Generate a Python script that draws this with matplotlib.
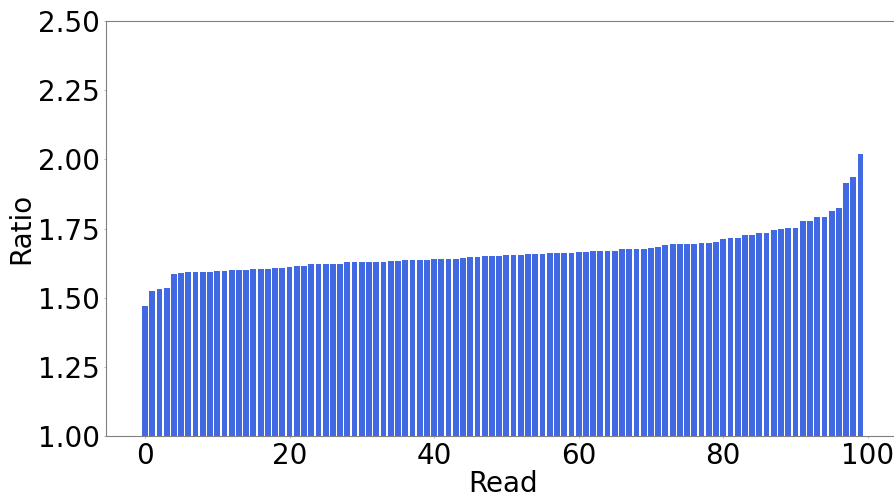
import numpy as np
import matplotlib
matplotlib.use("Agg")
import matplotlib.pyplot as plt
from matplotlib.ticker import FormatStrFormatter

# Ratio per read, sorted ascending
ratios = [
    1.470, 1.523, 1.530, 1.535, 1.584, 1.589, 1.592, 1.593, 1.593, 1.593,
    1.596, 1.596, 1.599, 1.600, 1.600, 1.604, 1.604, 1.604, 1.607, 1.607,
    1.610, 1.613, 1.613, 1.622, 1.622, 1.622, 1.622, 1.622, 1.628, 1.628,
    1.628, 1.629, 1.629, 1.629, 1.633, 1.633, 1.636, 1.636, 1.636, 1.636,
    1.639, 1.639, 1.639, 1.640, 1.643, 1.646, 1.646, 1.650, 1.651, 1.651,
    1.653, 1.654, 1.654, 1.657, 1.658, 1.658, 1.660, 1.660, 1.661, 1.661,
    1.664, 1.665, 1.669, 1.669, 1.669, 1.669, 1.675, 1.675, 1.675, 1.676,
    1.678, 1.682, 1.689, 1.693, 1.694, 1.694, 1.694, 1.698, 1.698, 1.701,
    1.712, 1.714, 1.714, 1.725, 1.727, 1.733, 1.733, 1.745, 1.747, 1.752,
    1.752, 1.776, 1.778, 1.791, 1.791, 1.813, 1.824, 1.913, 1.935, 2.018,
]
reads = np.arange(len(ratios))

fig = plt.figure(figsize=(8.94, 4.95), dpi=100)
# axes run past the right edge of the figure, as in the reference
ax = fig.add_axes([106 / 894, 59 / 495, 793.5 / 894, 415 / 495])

ax.bar(reads, ratios, color="royalblue", width=0.8)

ax.set_ylim(1.0, 2.5)
ax.set_yticks(np.arange(1.0, 2.51, 0.25))
ax.yaxis.set_major_formatter(FormatStrFormatter("%.2f"))
ax.set_xticks([0, 20, 40, 60, 80, 100])

ax.set_xlabel("Read", fontsize=20, labelpad=0)
ax.set_ylabel("Ratio", fontsize=20, labelpad=2)
ax.tick_params(labelsize=20, color="#bbbbbb", length=1.5, pad=3)
for s in ax.spines.values():
    s.set_color("grey")

fig.savefig("out.png", dpi=100)
